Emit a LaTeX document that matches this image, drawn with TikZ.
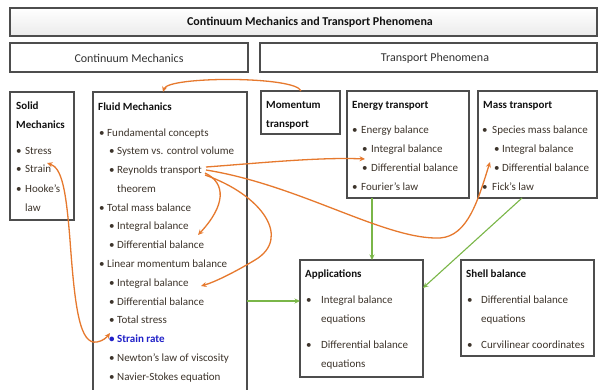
\documentclass[tikz,border=0pt]{standalone}
\usepackage{fontspec}
\setmainfont{Carlito}
\usetikzlibrary{shadows,arrows.meta}
\definecolor{boxline}{HTML}{4D4D4D}
\definecolor{itemc}{HTML}{3D342B}
\definecolor{hdrc}{HTML}{111111}
\definecolor{topc}{HTML}{333333}
\definecolor{orng}{HTML}{E6792E}
\definecolor{grn}{HTML}{7AB648}
\definecolor{blu}{HTML}{2020C8}
\newcommand\bl[1]{\makebox[#1][l]{\textbullet}}
\begin{document}
\begin{tikzpicture}[x=1pt,y=-1pt,
  >={Stealth[length=5.5pt,width=5pt]},
  box/.style={draw=boxline, line width=1.1pt, fill=white, anchor=north west,
    inner sep=0pt, outer sep=0pt,
    drop shadow={shadow xshift=1.3pt, shadow yshift=-1.3pt, opacity=0.4, fill=black}},
  txt/.style={anchor=base west, inner sep=0pt, font=\fontsize{11}{13}\selectfont, text=itemc},
  hdr/.style={anchor=base west, inner sep=0pt, font=\fontsize{11}{13}\selectfont\bfseries, text=hdrc},
  toptxt/.style={inner sep=0pt, font=\fontsize{12}{14}\selectfont, text=topc},
  oarr/.style={draw=orng, line width=1.3pt},
  garr/.style={draw=grn, line width=1.1pt, ->}]
\useasboundingbox (0,0) rectangle (599,389);

% boxes
\node[box, minimum width=587pt, minimum height=28pt, top color=white, bottom color=black!8] (title) at (10,8) {};
\node[box, minimum width=238pt, minimum height=29pt] (cm) at (10,43) {};
\node[box, minimum width=337pt, minimum height=29pt] (tp) at (260,43) {};
\node[box, minimum width=64pt, minimum height=128pt] (solid) at (10,92) {};
\node[box, minimum width=154pt, minimum height=310pt] (fluid) at (93,92) {};
\node[box, minimum width=79pt, minimum height=43pt] (mom) at (261,91) {};
\node[box, minimum width=122pt, minimum height=107pt] (energy) at (347,91) {};
\node[box, minimum width=119pt, minimum height=107pt] (mass) at (478,91) {};
\node[box, minimum width=123pt, minimum height=117pt] (apps) at (300,260) {};
\node[box, minimum width=133pt, minimum height=96pt] (shell) at (461,260) {};

% top texts
\node[toptxt, font=\fontsize{12}{14}\selectfont\bfseries, text=hdrc] (ttl) at (310,22) {Continuum Mechanics and Transport Phenomena};
\node[toptxt] (cmt) at (129,58) {Continuum Mechanics};
\node[toptxt] (tpt) at (435,58) {Transport Phenomena};

% solid mechanics
\node[hdr] (s0) at (16,109) {Solid};
\node[hdr] (s1) at (16,128) {Mechanics};
\node[txt] (s2) at (16,154) {\bl{9pt}Stress};
\node[txt] (s3) at (16,172) {\bl{9pt}Strain};
\node[txt] (s4) at (16,192) {\bl{9pt}Hooke’s};
\node[txt] (s5) at (25,211) {law};

% fluid mechanics
\node[hdr] (f0) at (98,110) {Fluid Mechanics};
\node[txt] (f1) at (99,136) {\bl{8pt}Fundamental concepts};
\node[txt] (f2) at (109,154) {\bl{8pt}System vs. control volume};
\node[txt] (reyn) at (109,173) {\bl{8pt}Reynolds transport};
\node[txt] (f4) at (117,192) {theorem};
\node[txt] (f5) at (99,211) {\bl{8pt}Total mass balance};
\node[txt] (f6) at (109,229) {\bl{8pt}Integral balance};
\node[txt] (f7) at (109,248) {\bl{8pt}Differential balance};
\node[txt] (f8) at (99,267) {\bl{8pt}Linear momentum balance};
\node[txt] (f9) at (109,286) {\bl{8pt}Integral balance};
\node[txt] (f10) at (109,305) {\bl{8pt}Differential balance};
\node[txt] (f11) at (109,323) {\bl{8pt}Total stress};
\node[txt, text=blu, font=\fontsize{11}{13}\selectfont\bfseries] (f12) at (109,342) {\bl{8pt}Strain rate};
\node[txt] (f13) at (109,361) {\bl{8pt}Newton’s law of viscosity};
\node[txt] (f14) at (109,380) {\bl{8pt}Navier-Stokes equation};

% momentum transport
\node[hdr] (m0) at (266,108) {Momentum};
\node[hdr] (m1) at (266,127) {transport};

% energy transport
\node[hdr] (e0) at (352,108) {Energy transport};
\node[txt] (e1) at (352,133) {\bl{9pt}Energy balance};
\node[txt] (e2) at (362,152) {\bl{9pt}Integral balance};
\node[txt] (e3) at (362,171) {\bl{9pt}Differential balance};
\node[txt] (e4) at (352,190) {\bl{9pt}Fourier’s law};

% mass transport
\node[hdr] (k0) at (483,108) {Mass transport};
\node[txt] (k1) at (482,133) {\bl{10pt}Species mass balance};
\node[txt] (k2) at (494,152) {\bl{8pt}Integral balance};
\node[txt] (k3) at (494,171) {\bl{8pt}Differential balance};
\node[txt] (k4) at (482,190) {\bl{10pt}Fick’s law};

% applications
\node[hdr] (a0) at (305,277) {Applications};
\node[txt] (a1) at (306,303) {\bl{15pt}Integral balance};
\node[txt] (a2) at (321,322) {equations};
\node[txt] (a3) at (306,348) {\bl{15pt}Differential balance};
\node[txt] (a4) at (321,367) {equations};

% shell balance
\node[hdr] (h0) at (466,277) {Shell balance};
\node[txt] (h1) at (467,303) {\bl{14pt}Differential balance};
\node[txt] (h2) at (481,322) {equations};
\node[txt] (h3) at (467,348) {\bl{14pt}Curvilinear coordinates};

% green connectors
\draw[garr] ([xshift=25pt]energy.south west) -- ([xshift=72pt]apps.north west);
\draw[garr] ([xshift=44pt]mass.south west) -- ([yshift=-28pt]apps.north east);
\coordinate (g3) at (247,301);
\draw[garr] (g3) -- (g3 -| apps.west);

% orange connectors
\coordinate (o1a) at (163,92);
\coordinate (o1b) at (301,91);
\draw[oarr,<-] (o1a) .. controls (168,76) and (296,76) .. (o1b);

\coordinate (strn) at (47,163);
\coordinate (srate) at (110,333);
\draw[oarr,<->] (strn) .. controls (62,168) and (66,190) .. (70,240)
  .. controls (75,310) and (80,345) .. (97,342)
  .. controls (103,341) and (107,337) .. (srate);

\coordinate (r1) at (206,167);
\coordinate (r2) at (206,170);
\coordinate (r3) at (205,173);
\coordinate (r4) at (205,175);
\coordinate (eint) at (365,159);
\coordinate (kint) at (490,162);
\coordinate (tmi) at (198,235);
\coordinate (lmi) at (201,286);
\draw[oarr,->] (r1) .. controls (260,163) and (320,157) .. (eint);
\draw[oarr,->] (r2) .. controls (300,185) and (385,240) .. (440,238)
  .. controls (468,236) and (478,200) .. (kint);
\draw[oarr,->] (r3) .. controls (226,183) and (226,205) .. (tmi);
\draw[oarr,->] (r4) .. controls (262,195) and (292,238) .. (255,260)
  .. controls (235,272) and (215,282) .. (lmi);
\end{tikzpicture}
\end{document}
